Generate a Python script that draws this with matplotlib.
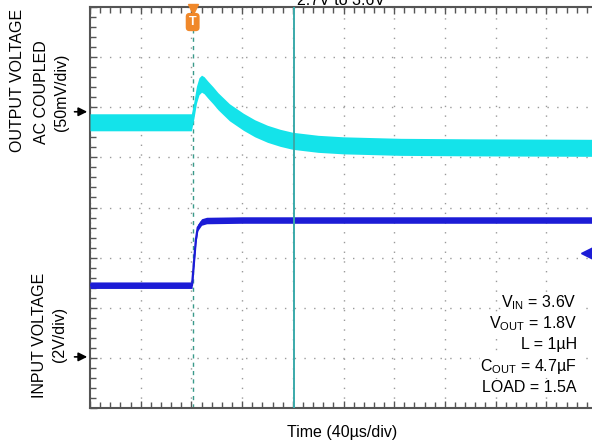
import matplotlib
matplotlib.use('Agg')
import matplotlib.pyplot as plt
import numpy as np

plt.rcParams['font.family'] = ['Liberation Sans', 'DejaVu Sans']
plt.rcParams['mathtext.fontset'] = 'custom'
plt.rcParams['mathtext.rm'] = 'Liberation Sans'

# time in us (40 us/div), traces in screen divisions (8 div tall)
t_out = [0, 80, 82, 84, 86, 88, 90, 93, 97, 101, 110, 121, 130, 140, 150, 160, 180, 200, 245, 300, 400]
v_out = [5.70, 5.70, 5.95, 6.25, 6.42, 6.47, 6.44, 6.35, 6.24, 6.12, 5.90, 5.71, 5.58, 5.47, 5.39, 5.33, 5.27, 5.24, 5.21, 5.20, 5.19]
t_in = [0, 80.5, 82, 83.5, 85, 88, 92, 120, 400]
v_in = [2.45, 2.45, 2.90, 3.35, 3.60, 3.71, 3.74, 3.75, 3.75]
out_hw = 0.17
in_hw = 0.065

trig_t = 81
cursor_t = 161
out_gnd = 5.91
in_gnd = 1.02
ch2_level = 3.09

fig = plt.figure(figsize=(5.92, 4.45), dpi=100)
ax = fig.add_axes([90/592, 37/445, 507/592, 401/445])

ax.fill_between(t_out, np.array(v_out) - out_hw, np.array(v_out) + out_hw,
                color='#14e3ea', lw=0, zorder=3)
ax.fill_between(t_in, np.array(v_in) - in_hw, np.array(v_in) + in_hw,
                color='#1c1cd6', lw=0, zorder=3)
ax.plot(t_in, v_in, color='#1c1cd6', lw=1.6, zorder=3)

ax.axvline(trig_t, color='#3a9a8a', ls=(0, (3, 3)), lw=1.0, zorder=2)
ax.axvline(cursor_t, color='#3aaaaa', lw=1.4, zorder=4)

ax.set_xlim(0, 400)
ax.set_ylim(0, 8)
ax.set_xticks(np.arange(0, 401, 40))
ax.set_xticks(np.arange(0, 401, 8), minor=True)
ax.set_yticks(np.arange(0, 9, 1))
ax.set_yticks(np.arange(0, 8.01, 0.2), minor=True)
ax.set_xticklabels([])
ax.set_yticklabels([])
ax.tick_params(which='both', direction='in', top=True, right=False, color='#555555')
ax.tick_params(which='major', length=5, width=1)
ax.tick_params(which='minor', length=4, width=1)
ax.grid(True, which='major', color='#9a9a9a', linestyle=(0, (1, 6)), linewidth=1.0)
for s in ax.spines.values():
    s.set_color('#555555')
    s.set_linewidth(1.5)

# ground reference arrows
for g in [out_gnd, in_gnd]:
    ax.annotate('', xy=(0, g), xycoords=('axes fraction', 'data'),
                xytext=(-0.036, g), textcoords=('axes fraction', 'data'),
                arrowprops=dict(arrowstyle='-|>', color='k', lw=1.2, mutation_scale=13),
                annotation_clip=False)
ax.plot([392], [ch2_level], marker='<', color='#1c1cd6', ms=8, clip_on=False, zorder=5)

# trigger marker
ax.plot([trig_t], [7.97], marker='v', color='#f0882a', ms=7, clip_on=False, zorder=6)
ax.text(trig_t, 7.7, 'T', ha='center', va='center', color='white', fontsize=9,
        fontweight='bold', zorder=6,
        bbox=dict(boxstyle='round,pad=0.25,rounding_size=0.3', fc='#f0882a', ec='none'))

fs = 11.5
fig.text(18/592, 1 - 80/445, 'OUTPUT VOLTAGE', rotation=90, ha='center', va='center', fontsize=fs)
fig.text(41/592, 1 - 92/445, 'AC COUPLED', rotation=90, ha='center', va='center', fontsize=fs)
fig.text(61/592, 1 - 92/445, '(50mV/div)', rotation=90, ha='center', va='center', fontsize=fs)
fig.text(40/592, 1 - 335/445, 'INPUT VOLTAGE', rotation=90, ha='center', va='center', fontsize=fs)
fig.text(60/592, 1 - 334/445, '(2V/div)', rotation=90, ha='center', va='center', fontsize=fs)
fig.text(342/592, 1 - 432/445, 'Time (40µs/div)', ha='center', va='center', fontsize=fs)
fig.text(341/592, 1 - 5/445, '2.7V to 3.6V', ha='center', va='baseline', fontsize=fs)

notes = [r'V$_{\mathrm{IN}}$ = 3.6V', r'V$_{\mathrm{OUT}}$ = 1.8V', 'L = 1µH',
         r'C$_{\mathrm{OUT}}$ = 4.7µF', 'LOAD = 1.5A']
for i, n in enumerate(notes):
    fig.text(577/592, 1 - (303 + 21*i)/445, n, ha='right', va='center', fontsize=fs,
             bbox=dict(fc='white', ec='none', pad=0.5))

fig.savefig('out.png', dpi=100)
